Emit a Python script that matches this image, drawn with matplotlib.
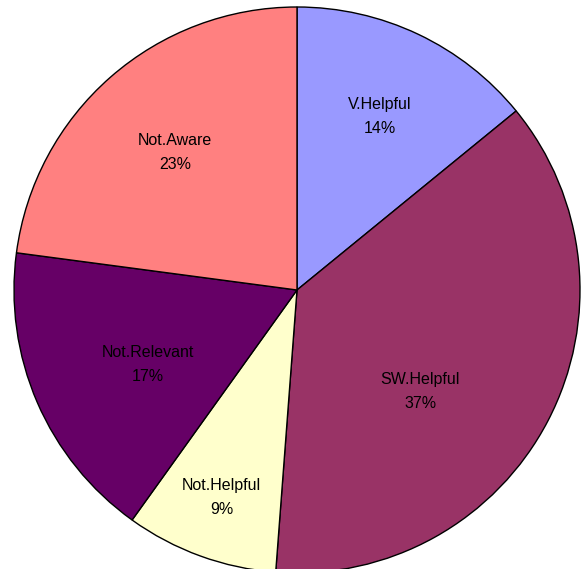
import matplotlib
matplotlib.use("Agg")
import matplotlib.pyplot as plt
import numpy as np

categories = ["V.Helpful", "SW.Helpful", "Not.Helpful", "Not.Relevant", "Not.Aware"]
values = [14.1, 37.1, 8.7, 17.2, 22.9]
pct_labels = ["14%", "37%", "9%", "17%", "23%"]
colors = ["#9999FF", "#993366", "#FFFFCC", "#660066", "#FF8080"]

plt.rcParams['font.family'] = ['Liberation Sans', 'DejaVu Sans']

W, H = 585, 569
fig = plt.figure(figsize=(W / 100, H / 100), dpi=100)
cx, cy, r = 297, 290, 283
ax = fig.add_axes([(cx - r) / W, (H - cy - r) / H, 2 * r / W, 2 * r / H])

wedges, _ = ax.pie(values, colors=colors, startangle=90, counterclock=False,
                   radius=1.0, wedgeprops=dict(edgecolor="black", linewidth=1.0))

# label placement (fraction of radius, angular offset in degrees)
label_r = [0.68, 0.565, 0.78, 0.59, 0.65]
label_da = [0, -12, 0, 3.2, 0.3]
for w, name, pct, lr, da in zip(wedges, categories, pct_labels, label_r, label_da):
    ang = np.deg2rad((w.theta1 + w.theta2) / 2 + da)
    ax.text(lr * np.cos(ang), lr * np.sin(ang), f"{name}\n{pct}",
            ha="center", va="center", fontsize=11.5, color="black", linespacing=1.75)

ax.set_xlim(-1, 1)
ax.set_ylim(-1, 1)
ax.set_aspect("equal")
ax.axis("off")
fig.savefig("out.png", dpi=100)
